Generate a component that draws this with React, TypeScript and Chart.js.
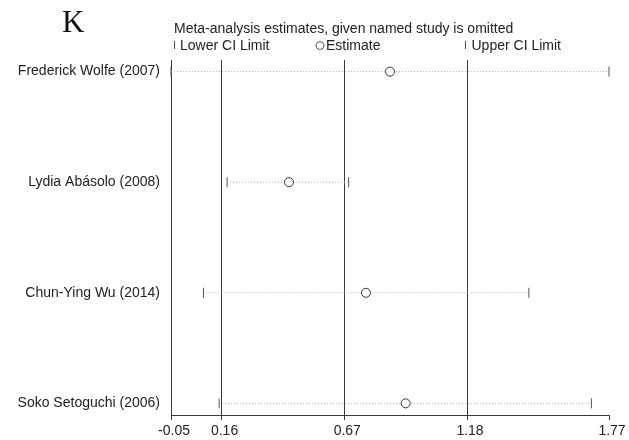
import React, { useEffect, useRef } from "react";
import { Chart, registerables } from "chart.js";

Chart.register(...registerables);

const studies = [
  "Frederick Wolfe (2007)",
  "Lydia Abásolo (2008)",
  "Chun-Ying Wu (2014)",
  "Soko Setoguchi (2006)",
];
const estimates = [0.86, 0.44, 0.76, 0.925];
const lowerCI = [-0.05, 0.183, 0.085, 0.15];
const upperCI = [1.77, 0.688, 1.437, 1.697];
const xTickValues = [-0.05, 0.16, 0.67, 1.18, 1.77];
const xTickLabels = ["-0.05", "0.16", "0.67", "1.18", "1.77"];
const titleText = "Meta-analysis estimates, given named study is omitted";
const legendLabels = ["Lower CI Limit", "Estimate", "Upper CI Limit"];
const panelLetter = "K";

const FONT = "'Liberation Sans', Arial, sans-serif";
const TEXT = "#222";
const LINE = "#3a3a3a";

const headerPlugin = {
  id: "header",
  afterDraw(chart: any) {
    const ctx = chart.ctx;
    const xs = chart.scales.x;
    const x0 = xs.getPixelForValue(xTickValues[0]);
    const xU = xs.getPixelForValue(xTickValues[3]);
    const xMid = (x0 + xU) / 2;
    ctx.save();
    ctx.fillStyle = "#111";
    ctx.textBaseline = "alphabetic";
    ctx.textAlign = "left";
    ctx.font = "31px 'Liberation Serif', 'Times New Roman', serif";
    ctx.fillText(panelLetter, 62, 32);

    ctx.fillStyle = TEXT;
    ctx.font = `14px ${FONT}`;
    ctx.fillText(titleText, x0 + 3, 33);

    const ly = 45;
    ctx.strokeStyle = "#555";
    ctx.lineWidth = 1;
    // lower marker
    ctx.beginPath();
    ctx.moveTo(x0 + 3.5, ly - 4);
    ctx.lineTo(x0 + 3.5, ly + 4);
    ctx.stroke();
    ctx.fillText(legendLabels[0], x0 + 9, ly + 5);
    // estimate marker
    ctx.beginPath();
    ctx.arc(xMid + 1, ly + 0.5, 4, 0, Math.PI * 2);
    ctx.stroke();
    ctx.fillText(legendLabels[1], xMid + 7, ly + 5);
    // upper marker
    ctx.beginPath();
    ctx.moveTo(xU - 1.5, ly - 4);
    ctx.lineTo(xU - 1.5, ly + 4);
    ctx.stroke();
    ctx.fillText(legendLabels[2], xU + 4.5, ly + 5);
    ctx.restore();
  },
};

export default function App() {
  const ref = useRef<HTMLCanvasElement | null>(null);

  useEffect(() => {
    if (!ref.current) return;
    const ciLines = studies.map((_, i) => ({
      type: "scatter" as const,
      data: [
        { x: lowerCI[i], y: i },
        { x: upperCI[i], y: i },
      ],
      showLine: true,
      borderColor: "#b0b0b0",
      borderWidth: 1,
      borderDash: [1, 2],
      pointRadius: 0,
      clip: false as any,
    }));
    const chart = new Chart(ref.current, {
      type: "scatter",
      data: {
        datasets: [
          {
            data: estimates.map((v, i) => ({ x: v, y: i })),
            pointStyle: "circle",
            pointRadius: 4.5,
            pointBorderWidth: 1,
            pointBorderColor: "#333",
            pointBackgroundColor: "#fff",
            clip: false as any,
          },
          {
            data: lowerCI.map((v, i) => ({ x: v, y: i })),
            pointStyle: "line",
            rotation: 90,
            pointRadius: 5,
            pointBorderWidth: 1,
            pointBorderColor: "#555",
            clip: false as any,
          },
          {
            data: upperCI.map((v, i) => ({ x: v, y: i })),
            pointStyle: "line",
            rotation: 90,
            pointRadius: 5,
            pointBorderWidth: 1,
            pointBorderColor: "#555",
            clip: false as any,
          },
          ...ciLines,
        ] as any,
      },
      options: {
        animation: false,
        responsive: false,
        devicePixelRatio: 1,
        layout: { padding: { left: 0, right: 20, top: 60, bottom: 0 } },
        plugins: {
          legend: { display: false },
          tooltip: { enabled: false },
        },
        scales: {
          x: {
            type: "linear",
            min: xTickValues[0],
            max: xTickValues[xTickValues.length - 1],
            afterBuildTicks: (s: any) => {
              s.ticks = xTickValues.map((v) => ({ value: v }));
            },
            afterFit: (s: any) => {
              s.height = 25;
            },
            ticks: {
              autoSkip: false,
              maxRotation: 0,
              padding: 3,
              labelOffset: 3,
              color: TEXT,
              font: { family: FONT, size: 14 },
              callback: (_v: any, i: number) => xTickLabels[i],
            },
            grid: {
              color: (c: any) =>
                c.index === xTickValues.length - 1 ? "rgba(0,0,0,0)" : LINE,
              tickColor: LINE,
              tickLength: 5,
              lineWidth: 1,
            },
            border: { color: LINE, width: 1 },
          },
          y: {
            type: "linear",
            reverse: true,
            min: -0.105,
            max: 3.105,
            afterBuildTicks: (s: any) => {
              s.ticks = studies.map((_, i) => ({ value: i }));
            },
            afterFit: (s: any) => {
              s.width = 171;
            },
            ticks: {
              autoSkip: false,
              padding: 11,
              color: TEXT,
              font: { family: FONT, size: 14 },
              callback: (v: any) => studies[Math.round(Number(v))],
            },
            grid: { display: false, drawTicks: false },
            border: { display: true, color: LINE, width: 1 },
          },
        },
      } as any,
      plugins: [headerPlugin],
    });
    return () => chart.destroy();
  }, []);

  return (
    <div style={{ position: "fixed", left: 0, top: 0, width: 629, height: 440, background: "#fff" }}>
      <canvas ref={ref} width={629} height={440} style={{ width: 629, height: 440, display: "block" }} />
    </div>
  );
}
